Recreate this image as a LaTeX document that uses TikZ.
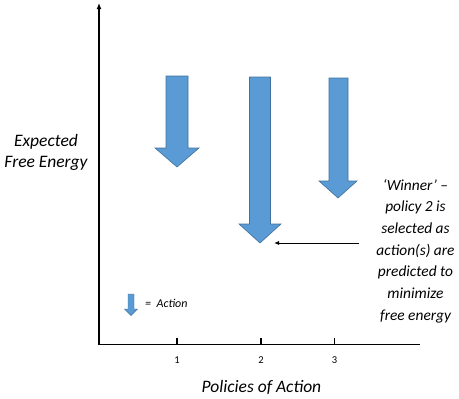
\documentclass[tikz,border=0pt]{standalone}
\usepackage{fontspec}
\setmainfont{Carlito}
\usetikzlibrary{arrows.meta}
\definecolor{barfill}{HTML}{5B9BD5}
\definecolor{barline}{HTML}{41719C}
\tikzset{
  blockarrow/.style={fill=barfill, draw=barline, line width=0.6pt, line join=miter},
  axisline/.style={line width=1.6pt, black},
  lbl/.style={font=\itshape, inner sep=0pt},
}
\begin{document}
\begin{tikzpicture}[x=1pt,y=-1pt]
\useasboundingbox (0,0) rectangle (459,399);
% axes
\coordinate (origin) at (99,344.5);
\coordinate (ytop) at (99,3);
\coordinate (xend) at (420,344.5);
\draw[axisline, -{Latex[length=6pt,width=5pt]}] (origin) -- (ytop);
\draw[axisline] ([xshift=-0.8pt]origin) -- (xend);
% ticks
\foreach \x/\n in {177/1,261/2,334.5/3}{
  \coordinate (t\n) at (\x,344.5);
  \draw[line width=1.2pt] (t\n) -- ++(0,-7);
  \node[font=\fontsize{10.5}{12}\selectfont, inner sep=0pt] (tl\n) at (\x,360) {\n};
}
% axis labels
\node[lbl, font=\itshape\fontsize{17.5}{21.5}\selectfont, align=center] (ylab) at (46,152.5) {Expected\\Free Energy};
\node[lbl, font=\itshape\fontsize{17.5}{18}\selectfont] (xlab) at (261.5,387) {Policies of Action};
% block arrows
\draw[blockarrow] (166,76) -- (188,76) -- (188,148) -- (199,148) -- (177,167) -- (155,148) -- (166,148) -- cycle;
\draw[blockarrow] (249.5,77) -- (270.5,77) -- (270.5,224) -- (281,224) -- (260,243) -- (239,224) -- (249.5,224) -- cycle;
\draw[blockarrow] (329,78) -- (348,78) -- (348,181) -- (357,181) -- (338,198) -- (319,181) -- (329,181) -- cycle;
\coordinate (tip2) at (274,243);
% legend
\draw[blockarrow, line width=0.4pt] (128,294) -- (134,294) -- (134,309) -- (137.5,309) -- (131,315.5) -- (124.5,309) -- (128,309) -- cycle;
\node[lbl, font=\itshape\fontsize{12}{14}\selectfont, anchor=west] (leg) at (145,303) {=\ \ Action};
% annotation
\node[lbl, font=\itshape\fontsize{15.4}{21.7}\selectfont, align=center] (note) at (415.5,251) {`Winner' --\\policy 2 is\\selected as\\action(s) are\\predicted to\\minimize\\free energy};
\coordinate (pstart) at (359,243);
\draw[line width=0.9pt, -{Latex[length=5pt,width=4pt]}] (pstart) -- (tip2);
\end{tikzpicture}
\end{document}
